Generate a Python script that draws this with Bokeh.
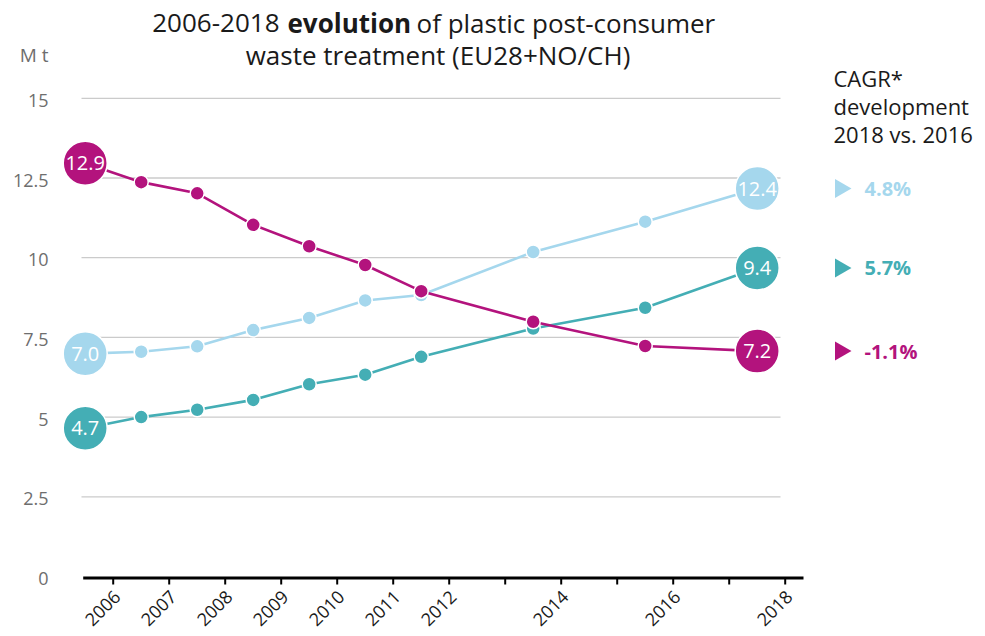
import math
from bokeh.plotting import figure
from bokeh.core.properties import value
from bokeh.embed import file_html
from bokeh.resources import INLINE

# ---------------- data ----------------
years = [2006, 2007, 2008, 2009, 2010, 2011, 2012, 2014, 2016, 2018]
energy_recovery = [6.99, 7.05, 7.22, 7.73, 8.11, 8.66, 8.83, 10.18, 11.13, 12.17]
recycling = [4.65, 5.00, 5.23, 5.54, 6.03, 6.33, 6.89, 7.78, 8.43, 9.68]
landfill = [12.96, 12.37, 12.02, 11.03, 10.36, 9.77, 8.95, 7.99, 7.23, 7.07]

energy_end_labels = ["7.0", "12.4"]
recycling_end_labels = ["4.7", "9.4"]
landfill_end_labels = ["12.9", "7.2"]

cagr_labels = ["4.8%", "5.7%", "-1.1%"]

tick_years = list(range(2006, 2019))
tick_labels = ["2006", "2007", "2008", "2009", "2010", "2011", "2012", "",
               "2014", "", "2016", "", "2018"]
y_ticks = [0, 2.5, 5, 7.5, 10, 12.5, 15]
y_tick_labels = ["0", "2.5", "5", "7.5", "10", "12.5", "15"]

title_line1 = ["2006-2018", "evolution", "of plastic post-consumer"]
title_line2 = "waste treatment (EU28+NO/CH)"
unit_label = "M t"
cagr_header = ["CAGR*", "development", "2018 vs. 2016"]

# ---------------- layout helpers ----------------
FONT = "Open Sans"
PX_PER_YEAR = 56.0
PX_PER_UNIT = 31.88
FRAME_W = 985
FRAME_H = 634
Y0_PAGE = 576          # page y of value 0
X_START = 2006 - 112.7 / PX_PER_YEAR
X_END = X_START + FRAME_W / PX_PER_YEAR
Y_START = (Y0_PAGE - FRAME_H) / PX_PER_UNIT
Y_END = Y0_PAGE / PX_PER_UNIT


def px2x(page_x):
    return X_START + page_x / PX_PER_YEAR


def px2y(page_y):
    return (Y0_PAGE - page_y) / PX_PER_UNIT


C_LIGHT = "#A5D7ED"
C_TEAL = "#44AEB5"
C_MAG = "#B3137D"
C_TEXT = "#1a1a1a"
C_GREY = "#6e6e6e"

p = figure(frame_width=FRAME_W, frame_height=FRAME_H,
           x_range=(X_START, X_END), y_range=(Y_START, Y_END),
           output_backend="svg", toolbar_location=None,
           min_border_left=0, min_border_right=0, min_border_top=0,
           min_border_bottom=0)
p.outline_line_color = None
p.grid.visible = False
p.axis.visible = False
p.background_fill_color = "white"
p.border_fill_color = "white"

# grid lines
grid_y = [t for t in y_ticks if t > 0]
p.segment(x0=[px2x(81)] * len(grid_y), y0=grid_y,
          x1=[px2x(780)] * len(grid_y), y1=grid_y,
          line_color="#cbcbcb", line_width=1.3)

# x axis (line, ticks, rotated labels)
p.segment(x0=[px2x(82.7)], y0=[px2y(577.5)], x1=[px2x(803)], y1=[px2y(577.5)],
          line_color="black", line_width=3)
p.segment(x0=tick_years, y0=[px2y(578)] * len(tick_years),
          x1=tick_years, y1=[px2y(584)] * len(tick_years),
          line_color="black", line_width=2)
lab_years = [y for y, l in zip(tick_years, tick_labels) if l]
lab_text = [l for l in tick_labels if l]
p.text(x=lab_years, y=[px2y(593)] * len(lab_years), text=lab_text,
       angle=math.pi / 4, text_align="right", text_baseline="middle",
       x_offset=4, text_font=value(FONT), text_font_size="18px",
       text_color=C_TEXT)

# y tick labels
p.text(x=[px2x(48)] * len(y_ticks), y=y_ticks, text=y_tick_labels,
       text_align="right", text_baseline="middle", y_offset=2,
       text_font=value(FONT), text_font_size="18px", text_color=C_GREY)
p.text(x=[px2x(48)], y=[px2y(54)], text=[unit_label],
       text_align="right", text_baseline="middle",
       text_font=value(FONT), text_font_size="19px", text_color=C_GREY)

# series
xs = [y - 0.5 for y in years]
for vals, col, labs in [(energy_recovery, C_LIGHT, energy_end_labels),
                        (recycling, C_TEAL, recycling_end_labels),
                        (landfill, C_MAG, landfill_end_labels)]:
    p.line(xs, vals, line_color=col, line_width=2.6)
    p.scatter(xs[1:-1], vals[1:-1], size=14, fill_color=col,
              line_color="white", line_width=1.5)
    ends_x = [xs[0], xs[-1]]
    ends_y = [vals[0], vals[-1]]
    p.scatter(ends_x, ends_y, size=44, fill_color=col,
              line_color="white", line_width=1.5)
    p.text(ends_x, ends_y, text=labs, text_align="center",
           text_baseline="middle", text_color="white",
           text_font=value(FONT), text_font_size="20px")

# CAGR column
last_vals = [energy_recovery[-1], recycling[-1], landfill[-1]]
cols = [C_LIGHT, C_TEAL, C_MAG]
p.scatter([px2x(840)] * 3, last_vals, marker="triangle", angle=-math.pi / 2,
          size=19, fill_color=cols, line_color=None)
p.text([px2x(864)] * 3, last_vals, text=cagr_labels, text_align="left",
       text_baseline="middle", text_color=cols, text_font_style="bold",
       text_font=value(FONT), text_font_size="20px")
p.text([px2x(833)] * 3, [px2y(77), px2y(105), px2y(133)], text=cagr_header,
       text_align="left", text_baseline="middle", text_color=C_TEXT,
       text_font=value(FONT), text_font_size="22px")

# title
T1, T2 = px2y(22), px2y(54)
p.text([px2x(279)], [T1], text=[title_line1[0]], text_align="right",
       text_baseline="middle", text_color=C_TEXT,
       text_font=value(FONT), text_font_size="26px")
p.text([px2x(287)], [T1], text=[title_line1[1]], text_align="left",
       text_baseline="middle", text_color=C_TEXT, text_font_style="bold",
       text_font=value(FONT), text_font_size="26px")
p.text([px2x(416)], [T1], text=[title_line1[2]], text_align="left",
       text_baseline="middle", text_color=C_TEXT,
       text_font=value(FONT), text_font_size="26px")
p.text([px2x(437.5)], [T2], text=[title_line2], text_align="center",
       text_baseline="middle", text_color=C_TEXT,
       text_font=value(FONT), text_font_size="26px")

open("out.html", "w").write(file_html(p, INLINE))
